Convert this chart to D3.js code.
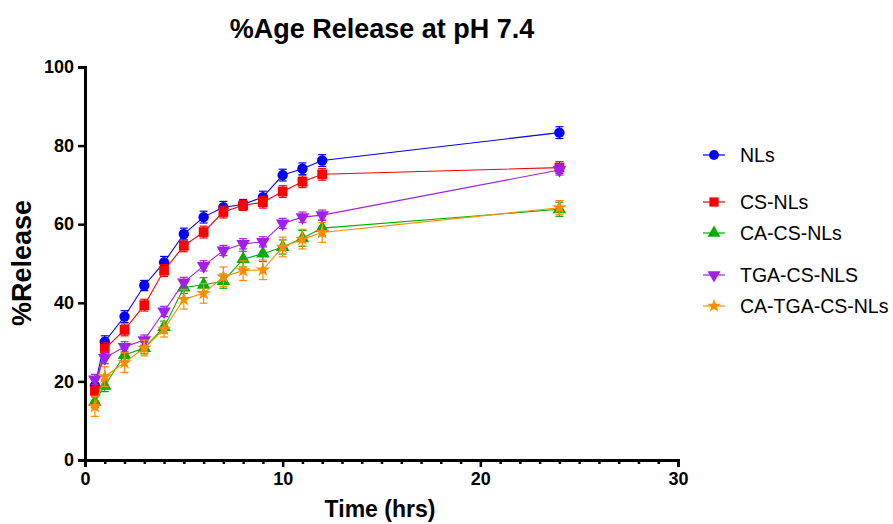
<!DOCTYPE html>
<html><head><meta charset="utf-8">
<script src="https://cdn.jsdelivr.net/npm/d3@7"></script>
<style>body{margin:0;background:#fff}svg{display:block}text{font-family:"Liberation Sans",Arial,sans-serif}</style>
</head><body><svg id="c" width="893" height="524"></svg>
<script>
const time = [0.5,1,2,3,4,5,6,7,8,9,10,11,12,24];
const seriesNames = ["NLs","CS-NLs","CA-CS-NLs","TGA-CS-NLS","CA-TGA-CS-NLs"];
const nls      = [18.9,30.1,36.5,44.4,50.3,57.5,61.8,64.3,65.0,66.9,72.5,74.1,76.2,83.3];
const csNls    = [17.6,28.3,33.1,39.4,48.2,54.5,58.0,63.1,64.8,65.6,68.3,70.8,72.7,74.4];
const caCsNls  = [14.8,18.9,26.7,28.5,33.8,43.9,44.6,45.5,51.1,52.5,54.2,56.4,59.0,63.8];
const tgaCsNls = [20.5,26.0,28.8,30.5,37.8,45.2,49.4,53.3,55.0,55.5,60.2,61.8,62.3,73.8];
const caTgaCsNls=[13.6,21.2,24.8,28.5,33.3,40.9,42.4,46.6,48.2,48.4,54.2,56.2,57.9,64.2];
const nlsErr      = [1.5,1.5,1.5,1.3,1.5,1.5,1.5,1.5,1.3,1.5,1.5,1.5,1.5,1.5];
const csNlsErr    = [1.5,1.5,1.5,1.5,1.5,1.5,1.5,1.5,1.3,1.5,1.5,1.5,1.5,1.5];
const caCsNlsErr  = [1.5,1.5,1.5,1.5,1.5,1.5,1.8,1.8,2.0,2.0,1.8,2.0,2.0,1.8];
const tgaCsNlsErr = [1.3,1.5,1.3,1.3,1.3,1.3,1.3,1.3,1.3,1.3,1.3,1.3,1.3,1.3];
const caTgaCsNlsErr=[2.5,2.5,2.5,2.0,2.0,2.5,2.5,2.5,2.5,2.5,2.5,2.5,2.5,1.8];
const xTicks = [0,10,20,30];
const yTicks = [0,20,40,60,80,100];

const colors = ["#0000ff","#ff0000","#00b000","#a020e8","#ff8c00"];
const symbols = [d3.symbolCircle,d3.symbolSquare,d3.symbolTriangle,"down",d3.symbolStar];
const sizes = [85,95,80,80,65];
const vals = [nls,csNls,caCsNls,tgaCsNls,caTgaCsNls];
const errs = [nlsErr,csNlsErr,caCsNlsErr,tgaCsNlsErr,caTgaCsNlsErr];

const svg = d3.select("#c");
const x = d3.scaleLinear().domain([0,30]).range([85,678]);
const y = d3.scaleLinear().domain([0,100]).range([460,67]);

function symPath(i, size){
  if (symbols[i]==="down") return d3.symbol(d3.symbolTriangle, size)();
  return d3.symbol(symbols[i], size)();
}

// axes
svg.append("g").attr("transform","translate(0,460)")
  .call(d3.axisBottom(x).tickValues(xTicks).tickFormat(d3.format("d")).tickSize(7).tickPadding(5));
svg.append("g").attr("transform","translate(0,460)")
  .call(d3.axisBottom(x).tickValues(d3.range(1,30).filter(d=>d%10)).tickFormat("").tickSize(4))
  .call(g=>g.select(".domain").remove());
svg.append("g").attr("transform","translate(85,0)")
  .call(d3.axisLeft(y).tickValues(yTicks).tickSize(7).tickPadding(4));
svg.selectAll(".domain").attr("stroke","#000").attr("stroke-width",3);
svg.selectAll(".tick line").attr("stroke","#000").attr("stroke-width",2.5);
svg.selectAll(".tick text").attr("font-size",18).attr("font-weight","bold").attr("fill","#000")
  .attr("font-family","'Liberation Sans',Arial,sans-serif");

// series
vals.forEach((v,i)=>{
  const g = svg.append("g");
  const data = time.map((t,j)=>({t, v:v[j], e:errs[i][j]}));
  g.append("path").datum(data).attr("fill","none").attr("stroke",colors[i]).attr("stroke-width",1.1)
    .attr("d", d3.line().x(d=>x(d.t)).y(d=>y(d.v)));
  const eb = g.selectAll(".eb").data(data).enter().append("g");
  eb.append("line").attr("x1",d=>x(d.t)).attr("x2",d=>x(d.t)).attr("y1",d=>y(d.v-d.e)).attr("y2",d=>y(d.v+d.e))
    .attr("stroke",colors[i]).attr("stroke-width",1.2);
  [-1,1].forEach(s=>{
    eb.append("line").attr("x1",d=>x(d.t)-4).attr("x2",d=>x(d.t)+4)
      .attr("y1",d=>y(d.v+s*d.e)).attr("y2",d=>y(d.v+s*d.e))
      .attr("stroke",colors[i]).attr("stroke-width",1.2);
  });
  g.selectAll(".m").data(data).enter().append("path")
    .attr("d", symPath(i, sizes[i]))
    .attr("transform", d=>`translate(${x(d.t)},${y(d.v)})` + (symbols[i]==="down"?" rotate(180)":""))
    .attr("fill",colors[i]);
});

// legend
const legY = [155,202,233,275,306];
seriesNames.forEach((n,i)=>{
  const g = svg.append("g").attr("transform",`translate(714,${legY[i]})`);
  g.append("line").attr("x1",-11).attr("x2",11).attr("stroke",colors[i]).attr("stroke-width",1.2);
  g.append("path").attr("d",symPath(i, sizes[i]*0.9)).attr("fill",colors[i])
    .attr("transform", symbols[i]==="down"?"rotate(180)":null);
  g.append("text").attr("x",26).attr("y",7).attr("font-size",19.5).attr("fill","#000").text(n);
});

// titles
svg.append("text").attr("x",382).attr("y",38).attr("text-anchor","middle").attr("font-size",27)
  .attr("font-weight","bold").text("%Age Release at pH 7.4");
svg.append("text").attr("x",380).attr("y",517).attr("text-anchor","middle").attr("font-size",23)
  .attr("font-weight","bold").text("Time (hrs)");
svg.append("text").attr("transform","translate(31,263) rotate(-90)").attr("text-anchor","middle")
  .attr("font-size",27).attr("font-weight","bold").text("%Release");
</script></body></html>
